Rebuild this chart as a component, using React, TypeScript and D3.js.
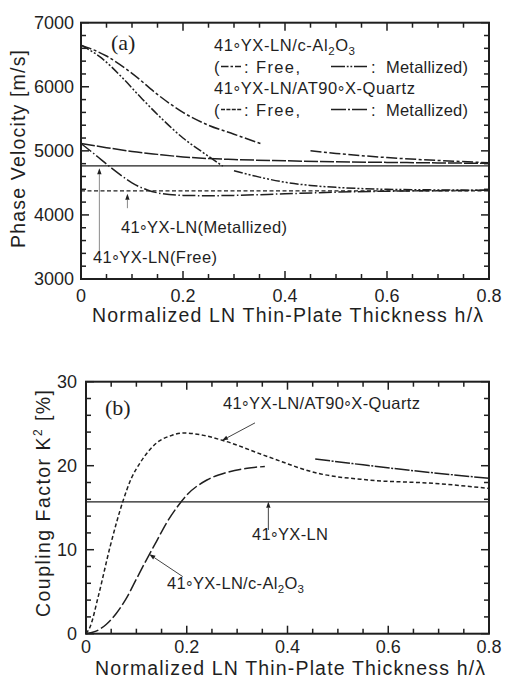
import React from "react";
import * as d3 from "d3";

// ---------- (a) phase velocity [m/s] vs h/lambda ----------
const hAlFreeA = [0, 0.05, 0.1, 0.15, 0.2, 0.25, 0.3, 0.355];
const vAlFreeA = [6650, 6480, 6210, 5880, 5600, 5400, 5260, 5105];
const hAlFreeB = [0.45, 0.5, 0.6, 0.7, 0.8];
const vAlFreeB = [5000, 4960, 4895, 4850, 4815];

const hAlMetA = [0, 0.04, 0.08, 0.12, 0.16, 0.2, 0.24, 0.278];
const vAlMetA = [6650, 6450, 6150, 5810, 5490, 5200, 4970, 4760];
const hAlMetB = [0.3, 0.35, 0.4, 0.45, 0.5, 0.6, 0.7, 0.8];
const vAlMetB = [4690, 4590, 4510, 4460, 4430, 4400, 4390, 4385];

const hQzFree = [0, 0.05, 0.1, 0.15, 0.2, 0.3, 0.4, 0.5, 0.6, 0.7, 0.8];
const vQzFree = [5115, 5050, 4990, 4945, 4905, 4865, 4845, 4830, 4820, 4812, 4805];

const hQzMet = [0, 0.02, 0.04, 0.06, 0.08, 0.1, 0.13, 0.16, 0.2, 0.25, 0.3, 0.4, 0.5, 0.6, 0.8];
const vQzMet = [5115, 4990, 4860, 4730, 4610, 4500, 4390, 4330, 4305, 4300, 4305, 4330, 4355, 4370, 4385];

const vLnFree = 4766;
const vLnMet = 4375;

// ---------- (b) coupling factor K^2 [%] vs h/lambda ----------
const hK2Qz = [0, 0.008, 0.025, 0.048, 0.074, 0.09, 0.107, 0.14, 0.17, 0.193, 0.226, 0.272, 0.36, 0.46, 0.56, 0.69, 0.8];
const kK2Qz = [0, 0.8, 4.6, 10.4, 15.9, 18.5, 20.3, 22.7, 23.6, 23.9, 23.7, 23.0, 21.1, 19.1, 18.3, 17.9, 17.3];

const hK2AlA = [0, 0.02, 0.04, 0.06, 0.08, 0.1, 0.12, 0.14, 0.16, 0.18, 0.2, 0.24, 0.28, 0.32, 0.355];
const kK2AlA = [0, 0.3, 1.1, 2.4, 4.2, 6.5, 8.8, 11.0, 13.2, 15.0, 16.5, 18.3, 19.2, 19.7, 19.9];
const hK2AlB = [0.455, 0.55, 0.65, 0.8];
const kK2AlB = [20.8, 20.1, 19.4, 18.5];

const kK2Ln = 15.7;

const xTicks = [0, 0.2, 0.4, 0.6, 0.8];
const xTickLabels = ["0", "0.2", "0.4", "0.6", "0.8"];
const vTicks = [3000, 4000, 5000, 6000, 7000];
const kTicks = [0, 10, 20, 30];

const W = 505;
const H = 679;
const SANS = "'Liberation Sans', Arial, Helvetica, sans-serif";
const SERIF = "'Liberation Serif', 'Times New Roman', serif";
const INK = "#1f1f1f";

const xA = d3.scaleLinear().domain([0, 0.8]).range([81, 489]);
const yA = d3.scaleLinear().domain([3000, 7000]).range([279, 22.7]);
const xB = d3.scaleLinear().domain([0, 0.8]).range([86, 489]);
const yB = d3.scaleLinear().domain([0, 30]).range([633.7, 381.7]);

type Sc = d3.ScaleLinear<number, number>;

function curvePath(xs: number[], ys: number[], sx: Sc, sy: Sc) {
  const line = d3
    .line<[number, number]>()
    .x((d) => sx(d[0]))
    .y((d) => sy(d[1]))
    .curve(d3.curveMonotoneX);
  return line(d3.zip(xs, ys) as [number, number][]) || "";
}

// Text with a mid-height degree ring and "_x" subscripts
function Rich({ s, fs }: { s: string; fs: number }) {
  const degOff = fs * 0.22;
  const subOff = fs * 0.22;
  const segs: { t: string; off: number; small: boolean }[] = [];
  let nextSub = false;
  for (const c of s) {
    if (c === "_") {
      nextSub = true;
      continue;
    }
    let seg;
    if (c === "°") seg = { t: "\u00b0", off: degOff, small: false };
    else if (nextSub) seg = { t: c, off: subOff, small: true };
    else seg = { t: c, off: 0, small: false };
    nextSub = false;
    const last = segs[segs.length - 1];
    if (last && last.off === seg.off && last.small === seg.small) last.t += seg.t;
    else segs.push(seg);
  }
  let cur = 0;
  return (
    <>
      {segs.map((g, i) => {
        const dy = g.off - cur;
        cur = g.off;
        return (
          <tspan key={i} dy={dy} fontSize={g.small ? fs * 0.7 : fs}>
            {g.t}
          </tspan>
        );
      })}
    </>
  );
}

function Arrow({ x1, y1, x2, y2, stroke }: { x1: number; y1: number; x2: number; y2: number; stroke: string }) {
  const ang = Math.atan2(y2 - y1, x2 - x1);
  const L = 6;
  const w = 2.2;
  const bx = x2 - L * Math.cos(ang);
  const by = y2 - L * Math.sin(ang);
  const px = -Math.sin(ang) * w;
  const py = Math.cos(ang) * w;
  return (
    <g>
      <line x1={x1} y1={y1} x2={bx} y2={by} stroke={stroke} strokeWidth={1} />
      <path d={`M${x2},${y2}L${bx + px},${by + py}L${bx - px},${by - py}Z`} fill={INK} />
    </g>
  );
}

function Frame({
  sx,
  sy,
  yMinor,
  yMajor,
}: {
  sx: Sc;
  sy: Sc;
  yMinor: number;
  yMajor: number;
}) {
  const [x0, x1] = sx.range();
  const [yb, yt] = sy.range();
  const [d0, d1] = sy.domain();
  const xm = d3.range(0, 0.8001, 0.05);
  const ym = d3.range(d0, d1 + 1e-6, yMinor);
  const isMaj = (v: number, step: number) => Math.abs(v / step - Math.round(v / step)) < 1e-6;
  return (
    <g stroke={INK} fill="none">
      {xm.map((v, i) => {
        const len = isMaj(v, 0.2) ? 8 : 5;
        return (
          <g key={"x" + i}>
            <line x1={sx(v)} x2={sx(v)} y1={yb} y2={yb - len} strokeWidth={1.5} />
            <line x1={sx(v)} x2={sx(v)} y1={yt} y2={yt + len} strokeWidth={1.5} />
          </g>
        );
      })}
      {ym.map((v, i) => {
        const len = isMaj(v, yMajor) ? 8 : 5;
        return (
          <g key={"y" + i}>
            <line x1={x0} x2={x0 + len} y1={sy(v)} y2={sy(v)} strokeWidth={1.5} />
            <line x1={x1} x2={x1 - len} y1={sy(v)} y2={sy(v)} strokeWidth={1.5} />
          </g>
        );
      })}
      <rect x={x0} y={yt} width={x1 - x0} height={yb - yt} strokeWidth={2} />
    </g>
  );
}

export default function App() {
  const curve = { fill: "none", stroke: INK, strokeWidth: 1.5 };
  const tickFs = 18;
  const lblFs = 16.5;
  return (
    <svg
      width={W}
      height={H}
      viewBox={`0 0 ${W} ${H}`}
      style={{ position: "absolute", left: 0, top: 0, background: "#fff" }}
      fontFamily={SANS}
    >
      <rect width={W} height={H} fill="#fff" />

      {/* ================= (a) ================= */}
      <Frame sx={xA} sy={yA} yMinor={200} yMajor={1000} />

      <line x1={xA(0)} x2={xA(0.8)} y1={yA(vLnFree)} y2={yA(vLnFree)} stroke={INK} strokeWidth={1.3} />
      <line
        x1={xA(0)}
        x2={xA(0.8)}
        y1={yA(vLnMet)}
        y2={yA(vLnMet)}
        stroke={INK}
        strokeWidth={1.2}
        strokeDasharray="4,2.5"
      />
      <path d={curvePath(hAlFreeA, vAlFreeA, xA, yA)} {...curve} strokeDasharray="11,2.5,3,2.5" />
      <path d={curvePath(hAlFreeB, vAlFreeB, xA, yA)} {...curve} strokeDasharray="11,2.5,3,2.5" />
      <path d={curvePath(hAlMetA, vAlMetA, xA, yA)} {...curve} strokeDasharray="9,2,2,2,2,2" />
      <path d={curvePath(hAlMetB, vAlMetB, xA, yA)} {...curve} strokeDasharray="9,2,2,2,2,2" />
      <path d={curvePath(hQzFree, vQzFree, xA, yA)} {...curve} strokeDasharray="14,2" />
      <path d={curvePath(hQzMet, vQzMet, xA, yA)} {...curve} strokeDasharray="13,2.5,1.5,2.5" />

      {/* axis labels */}
      <g fontSize={tickFs} fill={INK}>
        {vTicks.map((v) => (
          <text key={v} x={74} y={yA(v)} dy="0.36em" textAnchor="end">
            {v}
          </text>
        ))}
        {xTicks.map((v, i) => (
          <text key={v} x={xA(v)} y={301.5} textAnchor="middle">
            {xTickLabels[i]}
          </text>
        ))}
      </g>
      <text x={92} y={322} fontSize={19.5} fill={INK} textLength={391} lengthAdjust="spacing">
        Normalized LN Thin-Plate Thickness h/λ
      </text>
      <text
        transform={`translate(24.5,149) rotate(-90)`}
        textAnchor="middle"
        fontSize={19.5}
        fill={INK}
        textLength={198}
        lengthAdjust="spacing"
      >
        Phase Velocity [m/s]
      </text>

      <text x={111} y={50} fontFamily={SERIF} fontSize={22} fill={INK}>
        (a)
      </text>

      {/* legend */}
      <g fill={INK} fontSize={lblFs}>
        <text x={214} y={51} textLength={141} lengthAdjust="spacing">
          <Rich s="41°YX-LN/c-Al_2O_3" fs={lblFs} />
        </text>
        <text x={214} y={72.5}>(</text>
        <line x1={221} x2={241} y1={66.5} y2={66.5} stroke={INK} strokeWidth={1.3} strokeDasharray="7.5,2,2.5,2,7.5" />
        <text x={244} y={72.5}>:</text>
        <text x={256} y={72.5} textLength={44} lengthAdjust="spacing">Free,</text>
        <line x1={331} x2={367} y1={66.5} y2={66.5} stroke={INK} strokeWidth={1.3} strokeDasharray="14,1.8,1.8,1.8,1.8,1.8,14" />
        <text x={371} y={72.5}>:</text>
        <text x={386} y={72.5} textLength={82} lengthAdjust="spacing">Metallized)</text>

        <text x={214} y={94} textLength={201} lengthAdjust="spacing">
          <Rich s="41°YX-LN/AT90°X-Quartz" fs={lblFs} />
        </text>
        <text x={214} y={115.5}>(</text>
        <line x1={221} x2={242} y1={109.5} y2={109.5} stroke={INK} strokeWidth={1.3} strokeDasharray="4,1.4" />
        <text x={244} y={115.5}>:</text>
        <text x={256} y={115.5} textLength={44} lengthAdjust="spacing">Free,</text>
        <line x1={331} x2={367} y1={109.5} y2={109.5} stroke={INK} strokeWidth={1.3} strokeDasharray="15,2,2,2,15" />
        <text x={371} y={115.5}>:</text>
        <text x={386} y={115.5} textLength={82} lengthAdjust="spacing">Metallized)</text>
      </g>

      {/* annotations */}
      <Arrow x1={xA(0.036)} y1={yA(3417)} x2={xA(0.036)} y2={yA(4730)} stroke="#8a8a8a" />
      <Arrow x1={xA(0.091)} y1={yA(4105)} x2={xA(0.091)} y2={yA(4330)} stroke="#8a8a8a" />
      <g fill={INK} fontSize={lblFs}>
        <text x={121} y={233} textLength={166} lengthAdjust="spacing">
          <Rich s="41°YX-LN(Metallized)" fs={lblFs} />
        </text>
        <text x={93} y={263} textLength={124} lengthAdjust="spacing">
          <Rich s="41°YX-LN(Free)" fs={lblFs} />
        </text>
      </g>

      {/* ================= (b) ================= */}
      <Frame sx={xB} sy={yB} yMinor={2} yMajor={10} />

      <line x1={xB(0)} x2={xB(0.8)} y1={yB(kK2Ln)} y2={yB(kK2Ln)} stroke={INK} strokeWidth={1.3} />
      <path d={curvePath(hK2Qz, kK2Qz, xB, yB)} {...curve} strokeDasharray="4,2.5" />
      <path d={curvePath(hK2AlA, kK2AlA, xB, yB)} {...curve} strokeDasharray="13,3" />
      <path d={curvePath(hK2AlB, kK2AlB, xB, yB)} {...curve} strokeDasharray="15,1.5,2,1.5" />

      <g fontSize={tickFs} fill={INK}>
        {kTicks.map((v) => (
          <text key={v} x={77} y={yB(v)} dy="0.36em" textAnchor="end">
            {v}
          </text>
        ))}
        {xTicks.map((v, i) => (
          <text key={v} x={xB(v)} y={653} textAnchor="middle">
            {xTickLabels[i]}
          </text>
        ))}
      </g>
      <text x={95} y={674.5} fontSize={19.5} fill={INK} textLength={390} lengthAdjust="spacing">
        Normalized LN Thin-Plate Thickness h/λ
      </text>
      <text
        transform={`translate(50,503.5) rotate(-90)`}
        textAnchor="middle"
        fontSize={19.5}
        fill={INK}
        textLength={227}
        lengthAdjust="spacing"
      >
        Coupling Factor K
        <tspan dy={-8} fontSize={12}>
          2
        </tspan>
        <tspan dy={8}> [%]</tspan>
      </text>

      <text x={105} y={415} fontFamily={SERIF} fontSize={22} fill={INK}>
        (b)
      </text>

      <Arrow x1={xB(0.3355)} y1={yB(25.1)} x2={xB(0.27)} y2={yB(23.0)} stroke="#444" />
      <Arrow x1={xB(0.362)} y1={yB(12.35)} x2={xB(0.362)} y2={yB(kK2Ln)} stroke="#444" />
      <Arrow x1={xB(0.192)} y1={yB(6.8)} x2={xB(0.1257)} y2={yB(9.45)} stroke="#444" />
      <g fill={INK} fontSize={lblFs}>
        <text x={223} y={409} textLength={197} lengthAdjust="spacing">
          <Rich s="41°YX-LN/AT90°X-Quartz" fs={lblFs} />
        </text>
        <text x={252} y={540} textLength={76} lengthAdjust="spacing">
          <Rich s="41°YX-LN" fs={lblFs} />
        </text>
        <text x={167} y={589} textLength={137} lengthAdjust="spacing">
          <Rich s="41°YX-LN/c-Al_2O_3" fs={lblFs} />
        </text>
      </g>
    </svg>
  );
}
